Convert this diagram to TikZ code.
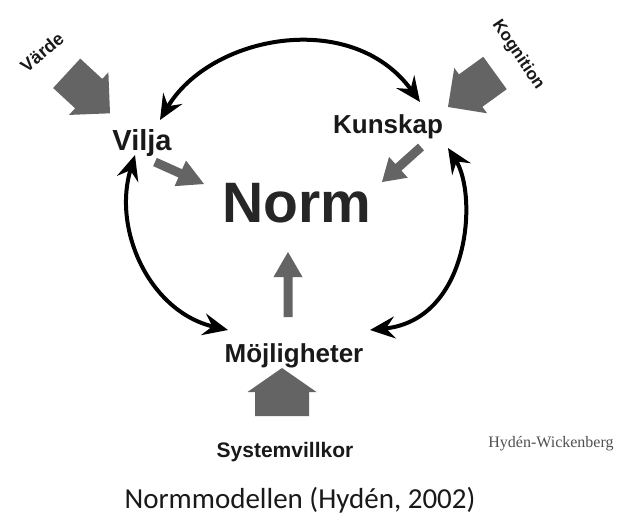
\documentclass[tikz,border=0pt]{standalone}
\usepackage{fontspec}
\setmainfont{Liberation Sans}
\newfontfamily\capfont{Carlito}
\newfontfamily\sigfont{Liberation Serif}
\usetikzlibrary{arrows.meta,calc}
\definecolor{arrowgray}{RGB}{100,100,100}
\definecolor{textdark}{RGB}{25,25,25}
\definecolor{normdark}{RGB}{38,38,38}
\definecolor{siggray}{RGB}{80,80,80}
% #1 tail, #2 tip, #3 shaft half width, #4 head half width, #5 head length
\newcommand{\blkarrow}[5]{%
  \coordinate (hb) at ($(#2)!#5!(#1)$);
  \fill[arrowgray] ($(#1)!#3!90:(#2)$) -- ($(hb)!#3!90:(#2)$) -- ($(hb)!#4!90:(#2)$) -- (#2)
    -- ($(hb)!#4!-90:(#2)$) -- ($(hb)!#3!-90:(#2)$) -- ($(#1)!#3!-90:(#2)$) -- cycle;}
\begin{document}
\begin{tikzpicture}[x=1pt,y=1pt,
  lbl/.style={font=\bfseries\fontsize{26}{28}\selectfont, text=textdark, inner sep=0pt, anchor=base},
  rlbl/.style={font=\bfseries\fontsize{17}{18}\selectfont, text=textdark, inner sep=0pt},
  cyc/.style={line width=4pt,
    {Stealth[length=25pt,width=22pt,inset=9pt]}-{Stealth[length=25pt,width=22pt,inset=9pt]}}]
\useasboundingbox (0,0) rectangle (635,-515);
\fill[white] (0,0) rectangle (635,-515);

% labels
\node[lbl, font=\bfseries\fontsize{29}{30}\selectfont] (vilja) at (142,-150) {Vilja};
\node[lbl] (kunskap) at (388,-133) {Kunskap};
\node[lbl, font=\bfseries\fontsize{57}{60}\selectfont, text=normdark] (norm) at (297,-222) {Norm};
\node[lbl] (moj) at (294,-362) {Möjligheter};
\node[lbl, font=\bfseries\fontsize{21}{22}\selectfont] (sys) at (285,-457) {Systemvillkor};
\node[rlbl, font=\bfseries\fontsize{18}{19}\selectfont, rotate=40] (varde) at (42,-52) {Värde};
\node[rlbl, rotate=-56] (kogn) at (518,-55) {Kognition};
\node[inner sep=0pt, anchor=base, font=\sigfont\fontsize{16}{17}\selectfont, text=siggray] (sig) at (551,-447) {Hydén-Wickenberg};
\node[inner sep=0pt, anchor=base, font=\capfont\fontsize{29}{30}\selectfont, text=textdark] (cap) at (300,-508) {Normmodellen (Hydén, 2002)};

% end points of the cycle connectors
\coordinate (vt) at (160,-120);
\coordinate (kt) at (420,-102);
\coordinate (vb) at (135,-155);
\coordinate (ml) at (228,-330);
\coordinate (kb) at (448,-148);
\coordinate (mr) at (370,-330);

\draw[cyc] (vt) .. controls (210,-35) and (352,-8) .. (kt);
\draw[cyc] (vb) .. controls (112,-230) and (150,-312) .. (ml);
\draw[cyc] (kb) .. controls (478,-195) and (470,-320) .. (mr);

% block arrows
\coordinate (vdS) at (66.7,-73.3);  \coordinate (vdT) at (110,-113.3);
\coordinate (kgS) at (495,-73);     \coordinate (kgT) at (448,-107);
\coordinate (syS) at (282,-416);    \coordinate (syT) at (282,-368);
\coordinate (vnS) at (155,-162);    \coordinate (vnT) at (204,-184);
\coordinate (knS) at (421,-147);    \coordinate (knT) at (382,-182);
\coordinate (mnS) at (288,-317);    \coordinate (mnT) at (288,-252);
\blkarrow{vdS}{vdT}{20pt}{29pt}{29pt}
\blkarrow{kgS}{kgT}{20pt}{28pt}{28pt}
\blkarrow{syS}{syT}{27pt}{34.5pt}{24pt}
\blkarrow{vnS}{vnT}{4.5pt}{14pt}{26pt}
\blkarrow{knS}{knT}{4.5pt}{14pt}{22pt}
\blkarrow{mnS}{mnT}{4.5pt}{14.5pt}{25pt}
\end{tikzpicture}
\end{document}
